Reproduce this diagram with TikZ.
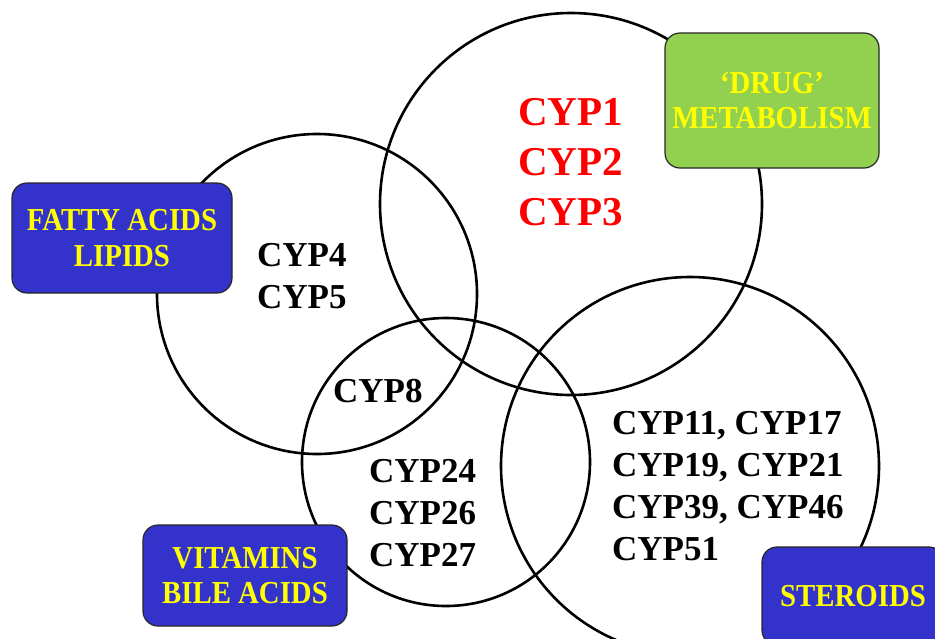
\documentclass[tikz,border=0pt]{standalone}
\usepackage{fontspec}
\setmainfont{Liberation Serif}
\newfontfamily\boxfont{Liberation Serif}[FakeStretch=0.9]
\definecolor{boxblue}{HTML}{3333CC}
\definecolor{boxgreen}{HTML}{92D050}
\definecolor{labyellow}{HTML}{FFFF00}
\definecolor{cypred}{HTML}{FF0000}
\begin{document}
\begin{tikzpicture}[x=1pt,y=-1pt,
  ring/.style={circle,draw=black,line width=2.6pt,inner sep=0pt},
  catbox/.style={draw=black!85,line width=1.2pt,rounded corners=15pt,
    align=center,inner sep=0pt,text=labyellow,
    font=\boxfont\bfseries\fontsize{32}{35.5}\selectfont},
  cyptext/.style={align=left,inner sep=0pt,anchor=west,
    font=\bfseries\fontsize{35}{42}\selectfont},
  cypred/.style={align=left,inner sep=0pt,anchor=west,text=cypred,
    font=\bfseries\fontsize{41}{50}\selectfont}]
\useasboundingbox (0,0) rectangle (935,638);
% circles
\node[ring,minimum size=382pt] (drugC) at (571,204) {};
\node[ring,minimum size=320pt] (fattyC) at (317,294) {};
\node[ring,minimum size=288pt] (vitC) at (446,462) {};
\node[ring,minimum size=378pt] (sterC) at (690,466) {};
% category boxes
\node[catbox,fill=boxblue,minimum width=220pt,minimum height=110pt] (fatty) at (122,238) {FATTY ACIDS\\LIPIDS};
\node[catbox,fill=boxgreen,minimum width=214pt,minimum height=135pt] (drug) at (772,100.5) {‘DRUG’\\METABOLISM};
\node[catbox,fill=boxblue,minimum width=204pt,minimum height=101pt] (vit) at (245,575.5) {VITAMINS\\BILE ACIDS};
\node[catbox,fill=boxblue,minimum width=182pt,minimum height=98pt] (ster) at (853,596) {STEROIDS};
% CYP labels
\node[cypred] (cyp123) at (518,162) {CYP1\\CYP2\\CYP3};
\node[cyptext] (cyp45) at (257,276) {CYP4\\CYP5};
\node[cyptext] (cyp8) at (333,391) {CYP8};
\node[cyptext] (cyp2427) at (369,513) {CYP24\\CYP26\\CYP27};
\node[cyptext] (cypster) at (612,486) {CYP11, CYP17\\CYP19, CYP21\\CYP39, CYP46\\CYP51};
\end{tikzpicture}
\end{document}
